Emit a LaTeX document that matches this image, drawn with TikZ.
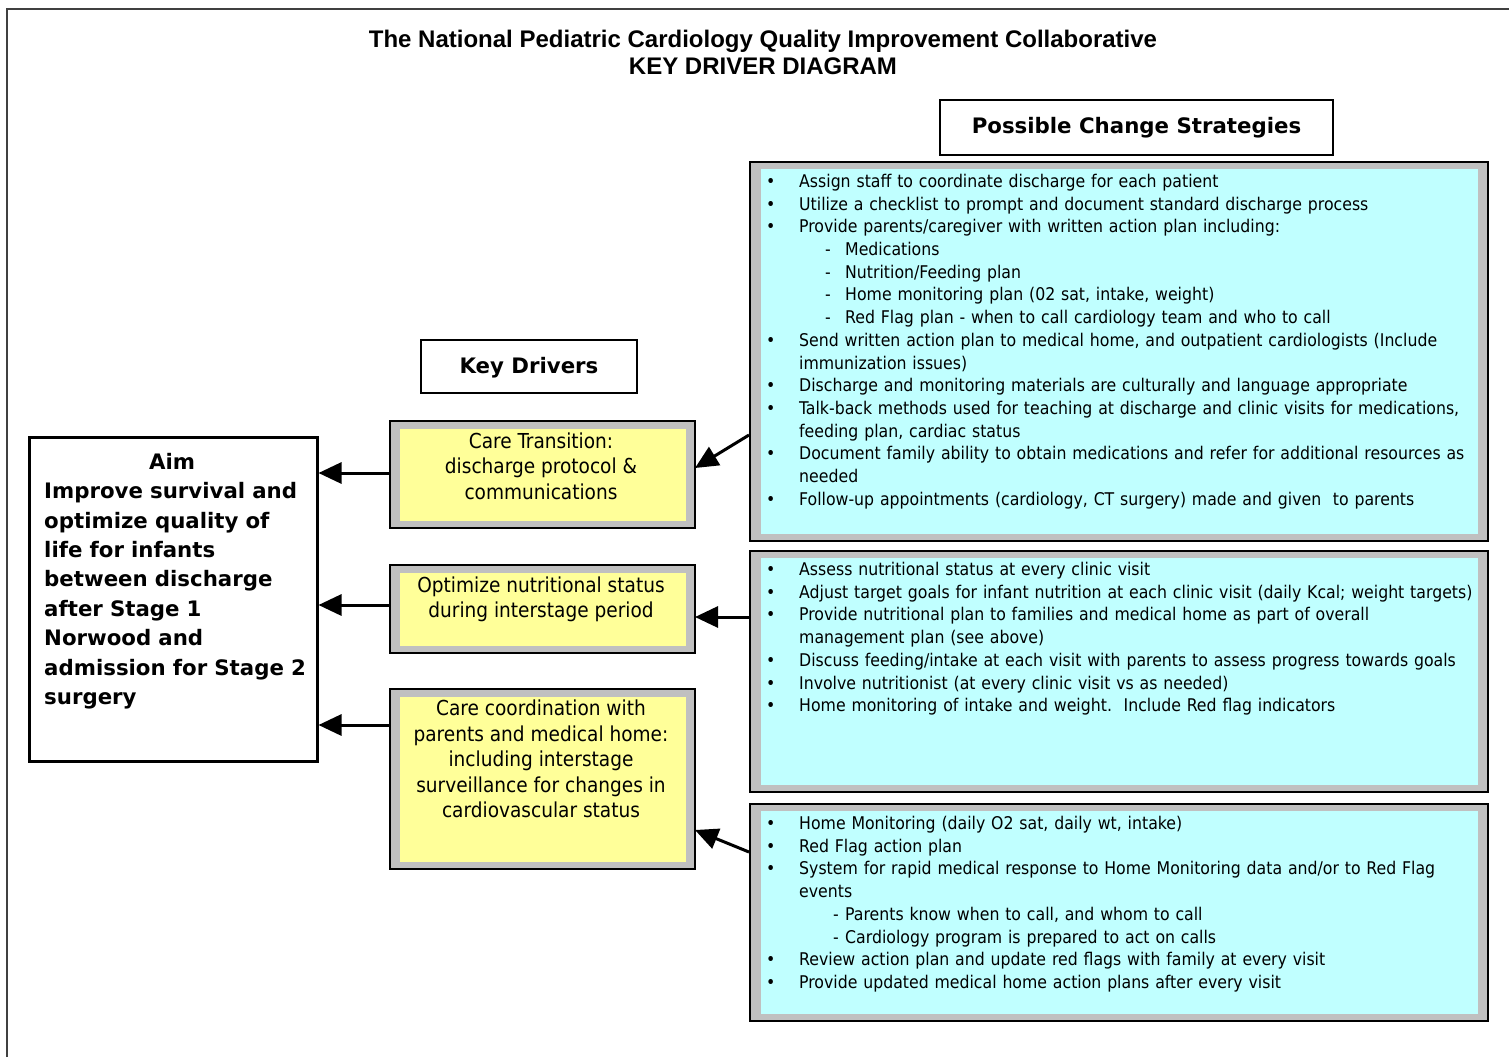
\documentclass[tikz,border=0pt]{standalone}
\usepackage{fontspec}
\setmainfont{DejaVu Sans}
\newfontfamily\tah{DejaVu Sans Condensed}
\newfontfamily\verd{DejaVu Sans}
\newfontfamily\arialf{Liberation Sans}
\usetikzlibrary{arrows.meta}
\definecolor{kdyellow}{HTML}{FFFF99}
\definecolor{cscyan}{HTML}{C0FFFF}
\definecolor{framegray}{HTML}{C0C0C0}
\newcommand\cbul{\makebox[33pt][l]{\textbullet}}
\newcommand\ccont{\hspace*{33pt}}
\newcommand\csub{\hspace*{59pt}\makebox[20pt][l]{-}}
\newcommand\csubb{\hspace*{67pt}\makebox[12pt][l]{-}}
\begin{document}
\begin{tikzpicture}[x=1pt,y=-1pt,
  greybox/.style={draw=black, line width=1.5pt, fill=framegray, inner sep=0pt, anchor=north west},
  hdrbox/.style={draw=black, line width=2pt, fill=white, inner sep=0pt, anchor=north west,
     font=\verd\bfseries\fontsize{21.3}{24}\selectfont},
  kdtext/.style={align=center, font=\tah\fontsize{20.6}{25.5}\selectfont, inner sep=0pt},
  cstext/.style={align=left, text width=720pt, anchor=north west, inner sep=0pt,
     font=\tah\fontsize{17.5}{22.7}\selectfont},
  arr/.style={line width=3pt, -{Triangle[length=23pt,width=21pt]}}]
\useasboundingbox (0,0) rectangle (1509,1057);
\fill[white] (0,0) rectangle (1509,1057);
\draw[line width=2pt, black!75] (7,1057) -- (7,9) -- (1509,9);

% title
\node[font=\arialf\bfseries\fontsize{24}{27}\selectfont, align=center, inner sep=0pt] (title) at (763,52)
  {The National Pediatric Cardiology Quality Improvement Collaborative\\KEY DRIVER DIAGRAM};

% headers
\node[hdrbox, minimum width=393pt, minimum height=55pt] (pcs) at (939,99) {Possible Change Strategies};
\node[hdrbox, minimum width=216pt, minimum height=53pt, text depth=3pt] (kd) at (420,339) {Key Drivers};

% aim
\node[draw=black, line width=2.5pt, fill=white, anchor=north west, minimum width=288pt, minimum height=324pt, inner sep=0pt] (aim) at (28,436) {};
\node[anchor=north west, align=left, inner sep=0pt, text width=265pt,
      font=\verd\bfseries\fontsize{21.3}{29.4}\selectfont] (aimtext) at (44,453)
  {\hspace*{105pt}Aim\\Improve survival and\\optimize quality of\\life for infants\\between discharge\\after Stage 1\\Norwood and\\admission for Stage 2\\surgery};

% key driver boxes
\node[greybox, minimum width=305pt, minimum height=107pt] (ct) at (389,420) {};
\fill[kdyellow] ([shift={(11,9)}]ct.north west) rectangle ([shift={(-10,-8)}]ct.south east);
\node[kdtext] (cttext) at (541,466) {Care Transition:\\discharge protocol \&\\communications};

\node[greybox, minimum width=305pt, minimum height=88pt] (opt) at (389,564) {};
\fill[kdyellow] ([shift={(11,9)}]opt.north west) rectangle ([shift={(-10,-8)}]opt.south east);
\node[kdtext] (opttext) at (541,599.5) {Optimize nutritional status\\during interstage period};

\node[greybox, minimum width=305pt, minimum height=180pt] (cc) at (389,688) {};
\fill[kdyellow] ([shift={(11,9)}]cc.north west) rectangle ([shift={(-10,-8)}]cc.south east);
\node[kdtext] (cctext) at (541,759) {Care coordination with\\parents and medical home:\\including interstage\\surveillance for changes in\\cardiovascular status};

% strategy boxes
\node[greybox, minimum width=738pt, minimum height=379pt] (s1) at (749,161) {};
\fill[cscyan] ([shift={(12,8)}]s1.north west) rectangle ([shift={(-11,-8)}]s1.south east);
\node[cstext] (s1text) at (766,174)
 {\cbul Assign staff to coordinate discharge for each patient\\
  \cbul Utilize a checklist to prompt and document standard discharge process\\
  \cbul Provide parents/caregiver with written action plan including:\\
  \csub Medications\\
  \csub Nutrition/Feeding plan\\
  \csub Home monitoring plan (02 sat, intake, weight)\\
  \csub Red Flag plan - when to call cardiology team and who to call\\
  \cbul Send written action plan to medical home, and outpatient cardiologists (Include\\
  \ccont immunization issues)\\
  \cbul Discharge and monitoring materials are culturally and language appropriate\\
  \cbul Talk-back methods used for teaching at discharge and clinic visits for medications,\\
  \ccont feeding plan, cardiac status\\
  \cbul Document family ability to obtain medications and refer for additional resources as\\
  \ccont needed\\
  \cbul Follow-up appointments (cardiology, CT surgery) made and given\ \ to parents};

\node[greybox, minimum width=738pt, minimum height=241pt] (s2) at (749,550) {};
\fill[cscyan] ([shift={(12,8)}]s2.north west) rectangle ([shift={(-11,-8)}]s2.south east);
\node[cstext] (s2text) at (766,562)
 {\cbul Assess nutritional status at every clinic visit\\
  \cbul Adjust target goals for infant nutrition at each clinic visit (daily Kcal; weight targets)\\
  \cbul Provide nutritional plan to families and medical home as part of overall\\
  \ccont management plan (see above)\\
  \cbul Discuss feeding/intake at each visit with parents to assess progress towards goals\\
  \cbul Involve nutritionist (at every clinic visit vs as needed)\\
  \cbul Home monitoring of intake and weight.\ \ Include Red flag indicators};

\node[greybox, minimum width=738pt, minimum height=217pt] (s3) at (749,803) {};
\fill[cscyan] ([shift={(12,8)}]s3.north west) rectangle ([shift={(-11,-8)}]s3.south east);
\node[cstext] (s3text) at (766,816)
 {\cbul Home Monitoring (daily O2 sat, daily wt, intake)\\
  \cbul Red Flag action plan\\
  \cbul System for rapid medical response to Home Monitoring data and/or to Red Flag\\
  \ccont events\\
  \csubb Parents know when to call, and whom to call\\
  \csubb Cardiology program is prepared to act on calls\\
  \cbul Review action plan and update red flags with family at every visit\\
  \cbul Provide updated medical home action plans after every visit};

% connectors
\coordinate (s1a) at (749,435);
\coordinate (ctt) at (695,468);
\coordinate (s2a) at (749,617);
\coordinate (optt) at (695,617);
\coordinate (s3a) at (749,852);
\coordinate (cct) at (695,830);
\draw[arr] (s1a) -- (ctt);
\draw[arr] (s2a) -- (optt);
\draw[arr] (s3a) -- (cct);

\coordinate (ctl) at (389,473);
\coordinate (optl) at (389,605);
\coordinate (ccl) at (389,725);
\draw[arr] (ctl) -- (aim.east |- ctl);
\draw[arr] (optl) -- (aim.east |- optl);
\draw[arr] (ccl) -- (aim.east |- ccl);
\end{tikzpicture}
\end{document}
